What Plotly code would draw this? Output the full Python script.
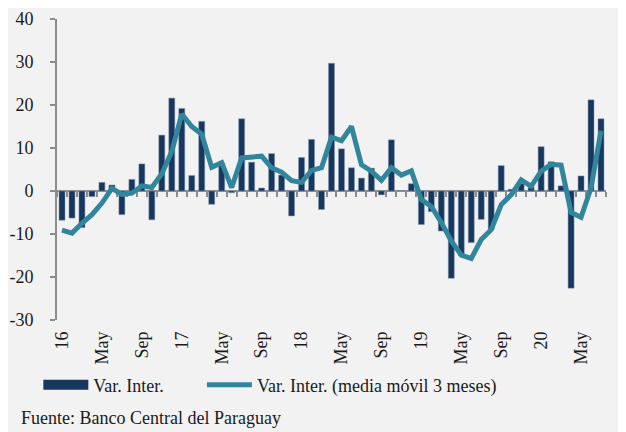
import plotly.graph_objects as go

FONT = "Liberation Serif"
BG = "#F2F2F2"
BAR_COLOR = "#17375E"
LINE_COLOR = "#31859C"
AXIS_GRAY = "#8C8C8C"

# months Jan-2016 .. Jul-2020
months = list(range(55))

var_inter = [
    -6.8, -6.3, -8.5, -1.3, 2.0, 1.4, -5.5, 2.7, 6.3, -6.7, 13.0, 21.6,
    19.2, 3.6, 16.2, -3.1, 6.5, -0.4, 16.8, 6.7, 0.7, 8.7, 3.7, -5.8,
    7.8, 12.0, -4.3, 29.7, 9.8, 5.4, 3.0, 5.3, -0.9, 11.9, 0.1, 1.7,
    -7.8, -4.8, -9.3, -20.3, -15.0, -12.0, -6.6, -8.9, 5.9, 0.4, 1.7, 0.9,
    10.3, 6.8, 1.2, -22.6, 3.5, 21.2, 16.8,
]

media_movil = [
    -9.1, -9.8, -7.5, -5.5, -2.8, 0.6, -0.8, -0.5, 1.2, 0.8, 4.0, 9.2,
    17.9, 15.0, 13.2, 5.5, 6.6, 0.8, 7.7, 8.0, 8.1, 5.4, 4.4, 2.4,
    2.0, 4.8, 5.4, 12.5, 11.7, 15.0, 6.1, 4.6, 2.5, 5.4, 3.7, 4.7,
    -2.0, -3.6, -7.3, -11.6, -14.9, -15.7, -11.3, -9.0, -3.2, -0.9, 2.6, 1.1,
    4.6, 6.2, 6.0, -5.0, -6.1, 0.7, 14.0,
]

tick_pos = [0, 4, 8, 12, 16, 20, 24, 28, 32, 36, 40, 44, 48, 52]
tick_text = ["16", "May", "Sep", "17", "May", "Sep", "18", "May", "Sep",
             "19", "May", "Sep", "20", "May"]

y_ticks = [-30, -20, -10, 0, 10, 20, 30, 40]
y_tick_text = ["-30", "-20", "-10", "0", "10", "20", "30", "40"]

Y_MIN, Y_MAX = -30, 40

fig = go.Figure()
fig.add_trace(
    go.Bar(
        x=months,
        y=var_inter,
        name="Var. Inter.",
        showlegend=False,
        marker=dict(color=BAR_COLOR, line=dict(color="#8497B0", width=0.5)),
    )
)
# legend entry for the bars: wide flat swatch like the original
fig.add_trace(
    go.Scatter(
        x=[None], y=[None], mode="lines", name="Var. Inter.",
        line=dict(color=BAR_COLOR, width=12), hoverinfo="skip",
        legend="legend",
    )
)
fig.add_trace(
    go.Scatter(
        x=months,
        y=media_movil,
        mode="lines",
        name="Var. Inter. (media móvil 3 meses)",
        line=dict(color=LINE_COLOR, width=5),
        legend="legend2",
    )
)
# carrier for the zero-line axis with category tick marks
fig.add_trace(
    go.Scatter(x=[None], y=[None], xaxis="x2", showlegend=False, hoverinfo="skip")
)

legend_common = dict(
    orientation="h",
    xanchor="left",
    y=-0.216,
    yanchor="middle",
    font=dict(size=18),
    bgcolor="rgba(0,0,0,0)",
    itemwidth=45,
)

# page body adds an 8px offset, so the figure is 8px smaller than the window
fig.update_layout(
    width=618,
    height=424,
    paper_bgcolor=BG,
    plot_bgcolor=BG,
    font=dict(family=FONT, size=18, color="#1A1A1A"),
    margin=dict(l=49, r=20, t=11, b=112, autoexpand=False),
    bargap=0.4,
    showlegend=True,
    legend=dict(x=-0.034, **legend_common),
    legend2=dict(x=0.264, **legend_common),
    xaxis=dict(
        range=[-0.5, 54.5],
        tickmode="array",
        tickvals=tick_pos,
        ticktext=tick_text,
        tickangle=-90,
        ticks="",
        showline=False,
        showgrid=False,
        zeroline=False,
        ticklabelstandoff=7,
    ),
    xaxis2=dict(
        overlaying="x",
        anchor="free",
        position=(0 - Y_MIN) / (Y_MAX - Y_MIN),
        range=[-0.5, 54.5],
        tickmode="array",
        tickvals=[k - 0.5 for k in range(56)],
        ticks="outside",
        ticklen=5,
        tickwidth=2,
        tickcolor=AXIS_GRAY,
        showline=True,
        linecolor=AXIS_GRAY,
        linewidth=2,
        showticklabels=False,
        showgrid=False,
        zeroline=False,
        layer="below traces",
    ),
    yaxis=dict(
        range=[Y_MIN, Y_MAX],
        tickmode="array",
        tickvals=y_ticks,
        ticktext=y_tick_text,
        ticks="outside",
        ticklen=5,
        tickwidth=2,
        tickcolor=AXIS_GRAY,
        showline=True,
        linecolor=AXIS_GRAY,
        linewidth=2,
        showgrid=False,
        zeroline=False,
        ticklabelstandoff=13,
    ),
    annotations=[
        dict(
            text="Fuente: Banco Central del Paraguay",
            xref="paper",
            yref="paper",
            x=-0.069,
            y=-0.326,
            xanchor="left",
            yanchor="middle",
            showarrow=False,
            font=dict(family=FONT, size=18, color="#1A1A1A"),
        )
    ],
)

fig.write_html("out.html")
